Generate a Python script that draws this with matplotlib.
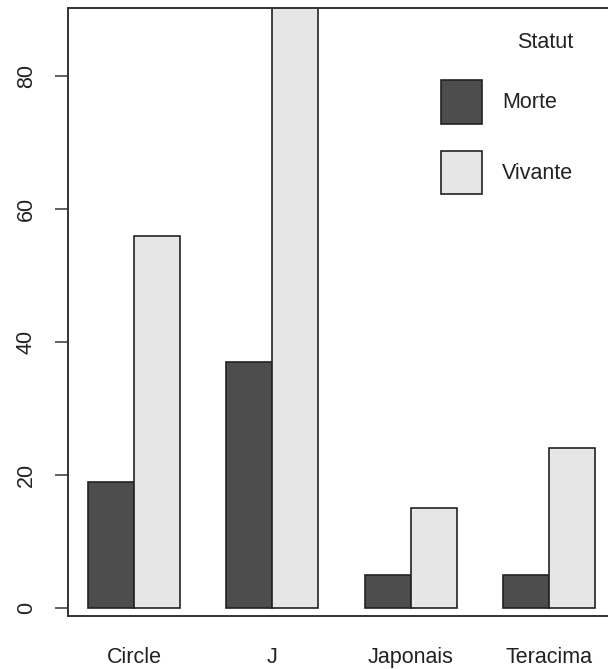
import matplotlib.pyplot as plt
import numpy as np

plt.rcParams['font.family'] = ['Liberation Sans', 'DejaVu Sans']

categories = ['Circle', 'J', 'Japonais', 'Teracima']
morte = [19, 37, 5, 5]
vivante = [56, 95, 15, 24]
statut = ['Morte', 'Vivante']
colors = ['#4d4d4d', '#e6e6e6']

fig = plt.figure(figsize=(6.08, 6.69), dpi=100)
# axes box runs a bit past the right edge, like the cropped original
ax = fig.add_axes([68 / 608, 53 / 669, 547 / 608, 608 / 669])

left = np.arange(len(categories)) * 3 + 1   # R barplot beside=TRUE layout
b1 = ax.bar(left, morte, width=1, align='edge', color=colors[0],
            edgecolor='#222222', linewidth=1.2, label=statut[0])
b2 = ax.bar(left + 1, vivante, width=1, align='edge', color=colors[1],
            edgecolor='#222222', linewidth=1.2, label=statut[1])

ax.set_xlim(0.56, 12.44)
ax.set_ylim(-1.2, 90.2)

ax.set_xticks(left + 1)
ax.set_xticklabels(categories, fontsize=15.5, color='#222222')
ax.tick_params(axis='x', length=0, pad=22)

ax.set_yticks([0, 20, 40, 60, 80])
ax.set_yticklabels(['0', '20', '40', '60', '80'], rotation=90, va='center',
                   fontsize=15.5, color='#222222')
ax.tick_params(axis='y', length=9.4, width=1.2, color='#444444', pad=13)

for s in ax.spines.values():
    s.set_linewidth(1.4)
    s.set_color('#333333')

leg = ax.legend(handles=[b1, b2], title='Statut', fontsize=15.5, title_fontsize=15.5,
                frameon=False, loc='upper left',
                bbox_to_anchor=(441 / 608, 1 - 32 / 669), bbox_transform=fig.transFigure,
                borderpad=0, borderaxespad=0, handlelength=1.9, handleheight=2.75,
                labelspacing=1.25, handletextpad=0.93, alignment='right')
for t in leg.get_texts():
    t.set_color('#222222')
leg.get_title().set_color('#222222')

fig.savefig('out.png', dpi=100)
